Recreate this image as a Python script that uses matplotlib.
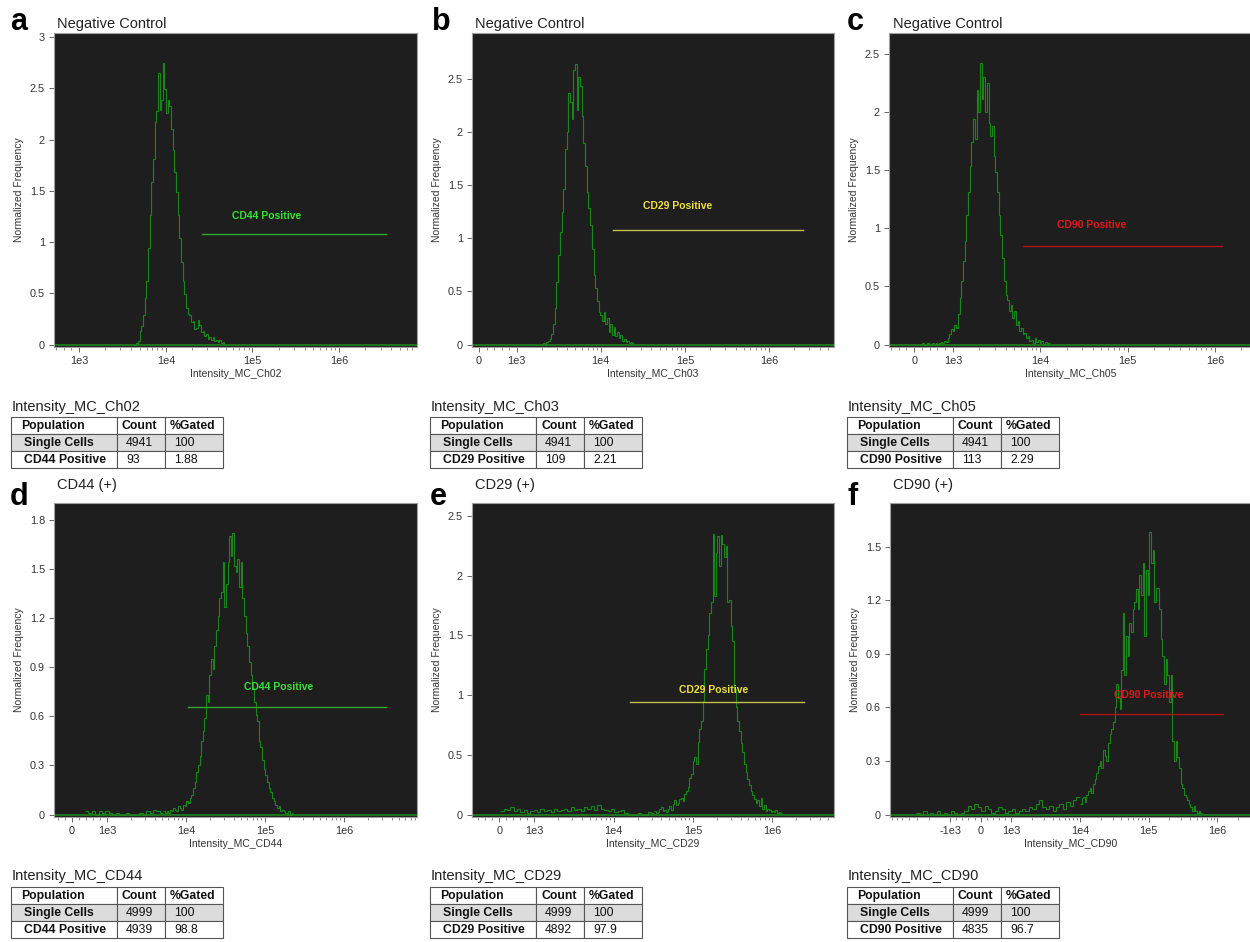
import numpy as np
import matplotlib
matplotlib.use("Agg")
import matplotlib.pyplot as plt
from matplotlib.patches import Rectangle
from matplotlib.ticker import FixedLocator, FixedFormatter, FormatStrFormatter

plt.rcParams['font.family'] = ['Liberation Sans', 'DejaVu Sans']

# ---------------- data ----------------
letters = ['a', 'b', 'c', 'd', 'e', 'f']
titles = ['Negative Control', 'Negative Control', 'Negative Control',
          'CD44 (+)', 'CD29 (+)', 'CD90 (+)']
xlabels = ['Intensity_MC_Ch02', 'Intensity_MC_Ch03', 'Intensity_MC_Ch05',
           'Intensity_MC_CD44', 'Intensity_MC_CD29', 'Intensity_MC_CD90']

# histogram heights (normalized frequency), bins evenly spaced on the display scale
a_range = (4180, 49300)
a_heights = [0.0, 0.0, 0.01, 0.03, 0.13, 0.18, 0.29, 0.45, 0.62, 0.94, 1.26, 1.59,
             1.81, 2.17, 2.28, 2.65, 2.29, 2.39, 2.75, 2.49, 2.26, 2.39, 2.33, 2.1,
             1.9, 1.68, 1.49, 1.26, 1.04, 0.81, 0.62, 0.49, 0.36, 0.30, 0.29, 0.22,
             0.23, 0.15, 0.16, 0.24, 0.19, 0.12, 0.13, 0.08, 0.10, 0.05, 0.07, 0.04,
             0.07, 0.03, 0.04, 0.02, 0.04, 0.01, 0.02, 0.0]

b_range = (1880, 24800)
b_heights = [0.0, 0.0, 0.01, 0.0, 0.02, 0.03, 0.05, 0.10, 0.19, 0.34, 0.59, 0.84,
             1.06, 1.25, 1.46, 1.84, 2.00, 2.37, 2.28, 2.12, 2.58, 2.64, 2.21, 2.52,
             2.43, 2.15, 1.90, 1.68, 1.43, 1.28, 1.12, 0.90, 0.65, 0.53, 0.41, 0.31,
             0.28, 0.22, 0.31, 0.19, 0.25, 0.12, 0.19, 0.09, 0.16, 0.08, 0.12, 0.06,
             0.09, 0.03, 0.05, 0.02, 0.03, 0.01, 0.02, 0.01]

c_range = (157, 12900)
c_heights = [0.0, 0.01, 0.0, 0.0, 0.01, 0.0, 0.0, 0.01, 0.0, 0.01, 0.0, 0.01,
             0.02, 0.01, 0.03, 0.02, 0.06, 0.09, 0.13, 0.12, 0.17, 0.14, 0.26, 0.40,
             0.55, 0.72, 0.89, 1.11, 1.31, 1.54, 1.74, 1.94, 1.77, 2.19, 2.00, 2.42,
             2.11, 2.30, 2.00, 2.25, 1.91, 1.79, 1.88, 1.62, 1.48, 1.31, 1.11, 0.94,
             0.74, 0.55, 0.43, 0.38, 0.29, 0.34, 0.23, 0.29, 0.17, 0.20, 0.12, 0.14,
             0.09, 0.10, 0.06, 0.07, 0.03, 0.04, 0.01, 0.06, 0.02, 0.04, 0.01, 0.03,
             0.0, 0.02, 0.0, 0.01]

d_noise_range = (370, 5160)
d_noise = [0.02, 0.01, 0.02, 0.0, 0.02, 0.01, 0.02, 0.01, 0.0, 0.01, 0.0, 0.0,
           0.01, 0.0, 0.0, 0.0, 0.01, 0.0, 0.02, 0.01, 0.03, 0.02, 0.01]
d_range = (5160, 229000)
d_heights = [0.02, 0.01, 0.02, 0.01, 0.03, 0.02, 0.04, 0.03, 0.02, 0.05, 0.04, 0.03,
             0.06, 0.05, 0.08, 0.07, 0.10, 0.12, 0.16, 0.20, 0.26, 0.30, 0.36, 0.45,
             0.51, 0.59, 0.73, 0.69, 0.85, 0.95, 0.89, 1.03, 1.13, 1.21, 1.32, 1.36,
             1.54, 1.27, 1.41, 1.54, 1.70, 1.58, 1.72, 1.52, 1.48, 1.56, 1.39, 1.54,
             1.32, 1.21, 1.11, 1.03, 0.93, 0.85, 0.77, 0.69, 0.61, 0.57, 0.45, 0.41,
             0.33, 0.28, 0.24, 0.20, 0.16, 0.14, 0.10, 0.08, 0.06, 0.04, 0.05, 0.02,
             0.03, 0.02, 0.01, 0.01, 0.02, 0.0, 0.01]

e_noise_range = (30, 32700)
e_noise = [0.03, 0.05, 0.04, 0.06, 0.03, 0.05, 0.02, 0.04, 0.01, 0.03, 0.04, 0.02,
           0.05, 0.03, 0.04, 0.02, 0.05, 0.03, 0.04, 0.05, 0.03, 0.06, 0.04, 0.05,
           0.03, 0.06, 0.05, 0.07, 0.04, 0.08, 0.05, 0.04, 0.03, 0.05, 0.02, 0.03,
           0.04, 0.01, 0.0, 0.0, 0.0, 0.01, 0.0, 0.0, 0.02, 0.01]
e_range = (32700, 1330000)
e_heights = [0.03, 0.01, 0.02, 0.05, 0.06, 0.03, 0.04, 0.02, 0.05, 0.07, 0.04, 0.09,
             0.12, 0.08, 0.10, 0.13, 0.14, 0.11, 0.17, 0.20, 0.23, 0.31, 0.34, 0.45,
             0.48, 0.42, 0.61, 0.72, 0.78, 0.95, 1.22, 1.39, 1.50, 1.69, 1.78, 2.35,
             1.83, 2.19, 2.33, 2.08, 2.34, 2.27, 2.16, 2.25, 1.78, 1.80, 1.58, 1.45,
             1.05, 0.90, 0.78, 0.70, 0.60, 0.52, 0.42, 0.36, 0.30, 0.25, 0.20, 0.16,
             0.13, 0.10, 0.12, 0.07, 0.14, 0.05, 0.08, 0.03, 0.05, 0.04, 0.02, 0.03,
             0.02, 0.04, 0.01, 0.02, 0.01]

f_noise_range = (-3090, 10000)
f_noise = [0.01, 0.0, 0.02, 0.0, 0.01, 0.0, 0.02,
           0.0, 0.01, 0.0, 0.02, 0.01, 0.0, 0.01, 0.02,
           0.05, 0.03, 0.06, 0.04, 0.02, 0.05, 0.03, 0.01, 0.02,
           0.04, 0.03, 0.01, 0.02, 0.03, 0.01, 0.02, 0.03, 0.02, 0.04, 0.03, 0.06,
           0.08, 0.04, 0.03, 0.05, 0.02, 0.04, 0.06, 0.03, 0.07, 0.05, 0.08, 0.10]
f_range = (10000, 600000)
f_heights = [0.06, 0.09, 0.10, 0.07, 0.11, 0.13, 0.15, 0.12, 0.17, 0.20, 0.23, 0.27,
             0.30, 0.26, 0.36, 0.33, 0.30, 0.40, 0.45, 0.48, 0.52, 0.60, 0.73, 0.65,
             0.59, 0.81, 1.13, 0.78, 1.00, 0.89, 1.07, 1.02, 1.15, 1.19, 1.26, 1.15,
             1.34, 1.23, 1.41, 1.00, 1.37, 1.23, 1.58, 1.41, 1.48, 1.19, 1.27, 1.27,
             1.15, 0.98, 0.89, 0.73, 0.87, 0.78, 0.63, 0.78, 0.41, 0.30, 0.41, 0.32,
             0.26, 0.17, 0.15, 0.11, 0.10, 0.08, 0.06, 0.04, 0.02, 0.05, 0.02, 0.01,
             0.02, 0.01]

hist_segments = [
    [(a_range, a_heights)],
    [(b_range, b_heights)],
    [(c_range, c_heights)],
    [(d_noise_range, d_noise), (d_range, d_heights)],
    [(e_noise_range, e_noise), (e_range, e_heights)],
    [(f_noise_range, f_noise), (f_range, f_heights)],
]

# gates
gate_names = ['CD44 Positive', 'CD29 Positive', 'CD90 Positive',
              'CD44 Positive', 'CD29 Positive', 'CD90 Positive']
gate_lo = [2.6e4, 1.4e4, 6.3e3, 1.06e4, 1.6e4, 1.0e4]
gate_hi = [3.5e6, 2.5e6, 1.2e6, 3.4e6, 2.5e6, 1.2e6]
gate_y = [1.08, 1.08, 0.845, 0.655, 0.94, 0.56]
gate_label_x = [1.45e5, 8.3e4, 3.9e4, 1.5e5, 1.8e5, 1.0e5]
gate_label_y = [1.25, 1.30, 1.03, 0.78, 1.04, 0.67]
gate_line_colors = ['#2ea82e', '#c4bd4c', '#b01212', '#2ea82e', '#c4bd4c', '#b01212']
gate_text_colors = ['#38e038', '#f0e040', '#e01818', '#38e038', '#f0e040', '#e01818']

# axis ticks / limits
xtick_vals = [[1e3, 1e4, 1e5, 1e6]] + [[0, 1e3, 1e4, 1e5, 1e6]] * 4 + \
             [[-1e3, 0, 1e3, 1e4, 1e5, 1e6]]
xtick_labels = [['1e3', '1e4', '1e5', '1e6']] + [['0', '1e3', '1e4', '1e5', '1e6']] * 4 + \
               [['-1e3', '0', '1e3', '1e4', '1e5', '1e6']]
xlims = [(348, 7.9e6), (-190, 5.9e6), (-650, 2.66e6),
         (-510, 8.4e6), (-770, 6.0e6), (-7.5e3, 3.2e6)]
ytops = [3.04, 2.93, 2.68, 1.903, 2.61, 1.744]
ytick_vals = [[0, 0.5, 1, 1.5, 2, 2.5, 3], [0, 0.5, 1, 1.5, 2, 2.5],
              [0, 0.5, 1, 1.5, 2, 2.5], [0, 0.3, 0.6, 0.9, 1.2, 1.5, 1.8],
              [0, 0.5, 1, 1.5, 2, 2.5], [0, 0.3, 0.6, 0.9, 1.2, 1.5]]

# statistics tables
table_titles = xlabels
single_counts = ['4941', '4941', '4941', '4999', '4999', '4999']
gate_counts = ['93', '109', '113', '4939', '4892', '4835']
gate_pct = ['1.88', '2.21', '2.29', '98.8', '97.9', '96.7']

# ---------------- layout (pixels) ----------------
W, H = 1250, 942
axes_px = [(54, 33, 417, 347), (472, 33, 834, 347), (889, 33, 1252, 347),
           (54, 503, 417, 817), (472, 503, 834, 817), (890, 503, 1252, 817)]
letter_xy = [(10, 30), (432, 30), (847, 30), (10, 505), (430, 505), (847, 505)]
title_xy = [(57, 28), (475, 28), (893, 28), (57, 489), (475, 489), (893, 489)]
table_x0 = [11, 430, 847, 11, 430, 847]
table_top = [417, 417, 417, 887, 887, 887]
table_title_y = [411, 411, 411, 880, 880, 880]
col_w = [106, 48, 58]
row_h = 17

hist_color = '#1a851a'
bg = '#1e1e1e'

fig = plt.figure(figsize=(W / 100, H / 100), dpi=100)

ov = fig.add_axes([0, 0, 1, 1])
ov.set_xlim(0, W)
ov.set_ylim(H, 0)
ov.axis('off')

minor_pos = [m * 10 ** k for k in range(3, 7) for m in range(2, 10)]
minor_pos += [200, 400, 600, 800]
minor_neg = [-m * 10 ** k for k in range(3, 5) for m in range(2, 10)] + [-200, -400, -600, -800]

for i in range(6):
    l, t, r, b = axes_px[i]
    ax = fig.add_axes([l / W, 1 - b / H, (r - l) / W, (b - t) / H])
    ax.set_facecolor(bg)
    ax.set_xscale('symlog', linthresh=1e3, linscale=0.4, base=10)
    ax.set_xlim(*xlims[i])
    ax.set_ylim(-0.008 * ytops[i], ytops[i])

    tr = ax.xaxis.get_transform()
    for (lo, hi), heights in hist_segments[i]:
        u0, u1 = tr.transform(np.array([lo, hi], dtype=float))
        edges = tr.inverted().transform(np.linspace(u0, u1, len(heights) + 1))
        ax.stairs(heights, edges, color=hist_color, lw=0.8, baseline=None)
    ax.axhline(0, color=hist_color, lw=1.2)

    # gate
    ax.plot([gate_lo[i], gate_hi[i]], [gate_y[i], gate_y[i]],
            color=gate_line_colors[i], lw=1.0)
    ax.text(gate_label_x[i], gate_label_y[i], gate_names[i], color=gate_text_colors[i],
            fontsize=7.5, fontweight='bold', ha='center', va='center')

    ax.xaxis.set_major_locator(FixedLocator(xtick_vals[i]))
    ax.xaxis.set_major_formatter(FixedFormatter(xtick_labels[i]))
    mins = [v for v in minor_pos + minor_neg if xlims[i][0] < v < xlims[i][1]]
    ax.xaxis.set_minor_locator(FixedLocator(mins))
    ax.yaxis.set_major_locator(FixedLocator(ytick_vals[i]))
    ax.yaxis.set_major_formatter(FormatStrFormatter('%g'))

    ax.tick_params(axis='both', which='major', direction='out', length=3.5, width=0.7,
                   color='#666666', labelsize=7.8, labelcolor='#333333', pad=3)
    ax.tick_params(axis='x', which='minor', direction='out', length=2, width=0.6,
                   color='#777777')
    for s in ax.spines.values():
        s.set_color('#a0a0a0')
        s.set_linewidth(0.8)

    ax.set_xlabel(xlabels[i], fontsize=7.5, color='#333333', labelpad=2)
    ax.set_ylabel('Normalized Frequency', fontsize=7.5, color='#333333', labelpad=4)

    # panel letter and title
    ov.text(*letter_xy[i], letters[i], fontsize=22, fontweight='bold',
            ha='left', va='baseline')
    ov.text(*title_xy[i], titles[i], fontsize=10.5, ha='left', va='baseline',
            color='#222222')

    # statistics table
    x0, y0 = table_x0[i], table_top[i]
    ov.text(x0 + 1, table_title_y[i], table_titles[i], fontsize=10.5,
            ha='left', va='baseline', color='#222222')
    rows = [['Population', 'Count', '%Gated'],
            ['Single Cells', single_counts[i], '100'],
            [gate_names[i], gate_counts[i], gate_pct[i]]]
    pads = [[10, 5, 5], [13, 9, 9], [13, 9, 9]]
    for ri, row in enumerate(rows):
        cx = x0
        for ci, txt in enumerate(row):
            face = '#dcdcdc' if ri == 1 else 'white'
            ov.add_patch(Rectangle((cx, y0 + ri * row_h), col_w[ci], row_h,
                                   facecolor=face, edgecolor='#555555', lw=0.8))
            bold = (ri == 0) or (ci == 0)
            ov.text(cx + pads[ri][ci], y0 + ri * row_h + row_h / 2 + 0.5, txt,
                    fontsize=8.8, fontweight='bold' if bold else 'normal',
                    ha='left', va='center', color='#111111')
            cx += col_w[ci]

fig.savefig('out.png', dpi=100, facecolor='white')
